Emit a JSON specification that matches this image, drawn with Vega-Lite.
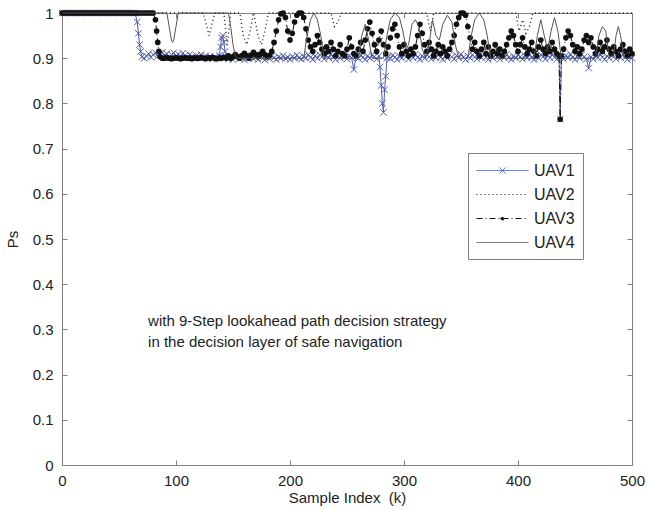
{
  "$schema": "https://vega.github.io/schema/vega-lite/v6.json",
  "width": 570,
  "height": 452,
  "autosize": {"type": "none"},
  "padding": {"left": 62, "top": 13, "right": 15, "bottom": 45},
  "background": "white",
  "config": {
    "font": "Liberation Sans",
    "view": {"stroke": "#808080"},
    "axis": {"labelFontSize": 15, "titleFontSize": 15, "labelColor": "#222222", "titleColor": "#222222", "domainColor": "#808080", "tickColor": "#808080", "grid": false, "titleFontWeight": "normal", "labelFont": "Liberation Sans", "titleFont": "Liberation Sans", "labelFlush": false}
  },
  "datasets": {
    "u1": [
      {"x":0,"y":1},{"x":2,"y":1},{"x":4,"y":1},{"x":6,"y":1},{"x":8,"y":1},{"x":10,"y":1},{"x":12,"y":1},{"x":14,"y":1},{"x":16,"y":1},{"x":18,"y":1},{"x":20,"y":1},{"x":22,"y":1},{"x":24,"y":1},{"x":26,"y":1},{"x":28,"y":1},{"x":30,"y":1},{"x":32,"y":1},{"x":34,"y":1},{"x":36,"y":1},{"x":38,"y":1},{"x":40,"y":1},{"x":42,"y":1},{"x":44,"y":1},{"x":46,"y":1},{"x":48,"y":1},{"x":50,"y":1},{"x":52,"y":1},{"x":54,"y":1},{"x":56,"y":1},{"x":58,"y":1},{"x":60,"y":1},{"x":62,"y":1},{"x":64,"y":1},
      {"x":66,"y":0.98},{"x":67,"y":0.955},{"x":68,"y":0.93},{"x":69,"y":0.915},{"x":70,"y":0.903},{"x":72,"y":0.9},
      {"x":74,"y":0.905},{"x":76,"y":0.91},{"x":78,"y":0.902},{"x":80,"y":0.908},{"x":82,"y":0.912},{"x":84,"y":0.904},{"x":86,"y":0.909},{"x":88,"y":0.913},{"x":90,"y":0.906},{"x":92,"y":0.91},{"x":94,"y":0.903},{"x":96,"y":0.908},{"x":98,"y":0.912},{"x":100,"y":0.905},{"x":102,"y":0.909},{"x":104,"y":0.904},{"x":106,"y":0.911},{"x":108,"y":0.906},{"x":110,"y":0.902},{"x":112,"y":0.908},{"x":114,"y":0.904},{"x":116,"y":0.9},{"x":118,"y":0.906},{"x":120,"y":0.902},{"x":122,"y":0.908},{"x":124,"y":0.901},{"x":126,"y":0.905},{"x":128,"y":0.9},{"x":130,"y":0.904},{"x":132,"y":0.898},{"x":134,"y":0.903},{"x":136,"y":0.9},{"x":138,"y":0.906},
      {"x":139,"y":0.925},{"x":140,"y":0.945},{"x":141,"y":0.95},{"x":142,"y":0.935},{"x":143,"y":0.915},{"x":144,"y":0.902},
      {"x":146,"y":0.898},{"x":148,"y":0.903},{"x":150,"y":0.897},{"x":152,"y":0.901},{"x":154,"y":0.905},{"x":156,"y":0.899},{"x":158,"y":0.902},{"x":160,"y":0.896},{"x":162,"y":0.903},{"x":164,"y":0.9},{"x":166,"y":0.906},{"x":168,"y":0.899},{"x":170,"y":0.902},{"x":172,"y":0.897},{"x":174,"y":0.904},{"x":176,"y":0.9},{"x":178,"y":0.896},{"x":180,"y":0.903},{"x":182,"y":0.899},{"x":184,"y":0.905},{"x":186,"y":0.901},{"x":188,"y":0.897},{"x":190,"y":0.903},{"x":192,"y":0.9},{"x":194,"y":0.906},{"x":196,"y":0.899},{"x":198,"y":0.902},{"x":200,"y":0.897},{"x":202,"y":0.904},{"x":204,"y":0.9},{"x":206,"y":0.907},{"x":208,"y":0.901},{"x":210,"y":0.898},{"x":212,"y":0.904},{"x":214,"y":0.9},{"x":216,"y":0.908},{"x":218,"y":0.902},{"x":220,"y":0.897},{"x":222,"y":0.905},{"x":224,"y":0.9},{"x":226,"y":0.908},{"x":228,"y":0.903},{"x":230,"y":0.898},{"x":232,"y":0.906},{"x":234,"y":0.901},{"x":236,"y":0.909},{"x":238,"y":0.902},{"x":240,"y":0.897},{"x":242,"y":0.905},{"x":244,"y":0.9},{"x":246,"y":0.908},{"x":248,"y":0.903},{"x":250,"y":0.898},{"x":252,"y":0.906},{"x":254,"y":0.901},{"x":256,"y":0.875},{"x":258,"y":0.903},{"x":260,"y":0.899},{"x":262,"y":0.907},{"x":264,"y":0.902},{"x":266,"y":0.897},{"x":268,"y":0.905},{"x":270,"y":0.9},{"x":272,"y":0.908},{"x":274,"y":0.903},{"x":276,"y":0.898},{"x":278,"y":0.905},
      {"x":279,"y":0.88},{"x":280,"y":0.84},{"x":281,"y":0.8},{"x":282,"y":0.78},{"x":283,"y":0.83},{"x":284,"y":0.86},{"x":285,"y":0.9},
      {"x":286,"y":0.904},{"x":288,"y":0.899},{"x":290,"y":0.907},{"x":292,"y":0.902},{"x":294,"y":0.897},{"x":296,"y":0.905},{"x":298,"y":0.9},{"x":300,"y":0.908},{"x":302,"y":0.903},{"x":304,"y":0.898},{"x":306,"y":0.906},{"x":308,"y":0.901},{"x":310,"y":0.909},{"x":312,"y":0.902},{"x":314,"y":0.897},{"x":316,"y":0.905},{"x":318,"y":0.9},{"x":320,"y":0.908},{"x":322,"y":0.903},{"x":324,"y":0.898},{"x":326,"y":0.906},{"x":328,"y":0.901},{"x":330,"y":0.909},{"x":332,"y":0.902},{"x":334,"y":0.897},{"x":336,"y":0.905},{"x":338,"y":0.9},{"x":340,"y":0.908},{"x":342,"y":0.903},{"x":344,"y":0.898},{"x":346,"y":0.906},{"x":348,"y":0.901},{"x":350,"y":0.909},{"x":352,"y":0.902},{"x":354,"y":0.897},{"x":356,"y":0.905},{"x":358,"y":0.9},{"x":360,"y":0.908},{"x":362,"y":0.903},{"x":364,"y":0.898},{"x":366,"y":0.906},{"x":368,"y":0.901},{"x":370,"y":0.909},{"x":372,"y":0.902},{"x":374,"y":0.897},{"x":376,"y":0.905},{"x":378,"y":0.9},{"x":380,"y":0.908},{"x":382,"y":0.903},{"x":384,"y":0.898},{"x":386,"y":0.906},{"x":388,"y":0.901},{"x":390,"y":0.909},{"x":392,"y":0.902},{"x":394,"y":0.897},{"x":396,"y":0.905},{"x":398,"y":0.9},{"x":400,"y":0.908},{"x":402,"y":0.903},{"x":404,"y":0.898},{"x":406,"y":0.906},{"x":408,"y":0.901},{"x":410,"y":0.909},{"x":412,"y":0.902},{"x":414,"y":0.897},{"x":416,"y":0.905},{"x":418,"y":0.9},{"x":420,"y":0.908},{"x":422,"y":0.903},{"x":424,"y":0.898},{"x":426,"y":0.906},{"x":428,"y":0.901},{"x":430,"y":0.909},{"x":432,"y":0.902},{"x":434,"y":0.897},{"x":436,"y":0.905},{"x":437,"y":0.765},{"x":438,"y":0.902},{"x":440,"y":0.898},{"x":442,"y":0.906},{"x":444,"y":0.901},{"x":446,"y":0.909},{"x":448,"y":0.902},{"x":450,"y":0.897},{"x":452,"y":0.905},{"x":454,"y":0.9},{"x":456,"y":0.908},{"x":458,"y":0.903},{"x":460,"y":0.898},{"x":462,"y":0.878},{"x":464,"y":0.903},{"x":466,"y":0.898},{"x":468,"y":0.906},{"x":470,"y":0.901},{"x":472,"y":0.909},{"x":474,"y":0.902},{"x":476,"y":0.897},{"x":478,"y":0.905},{"x":480,"y":0.9},{"x":482,"y":0.908},{"x":484,"y":0.903},{"x":486,"y":0.898},{"x":488,"y":0.906},{"x":490,"y":0.901},{"x":492,"y":0.909},{"x":494,"y":0.902},{"x":496,"y":0.897},{"x":498,"y":0.905},{"x":500,"y":0.9}
    ],
    "u2": [
      {"x":0,"y":1},{"x":124,"y":1},{"x":127,"y":0.97},{"x":129,"y":0.95},{"x":131,"y":0.97},{"x":134,"y":1},{"x":142,"y":1},{"x":145,"y":0.93},{"x":148,"y":1},{"x":156,"y":1},{"x":159,"y":0.95},{"x":162,"y":0.93},{"x":165,"y":0.96},{"x":168,"y":1},{"x":172,"y":0.95},{"x":175,"y":0.93},{"x":178,"y":0.96},{"x":181,"y":1},{"x":236,"y":1},{"x":239,"y":0.97},{"x":242,"y":0.98},{"x":245,"y":1},{"x":320,"y":1},{"x":323,"y":0.96},{"x":326,"y":1},{"x":398,"y":1},{"x":401,"y":0.96},{"x":404,"y":0.985},{"x":407,"y":0.955},{"x":410,"y":0.97},{"x":413,"y":1},{"x":500,"y":1}
    ],
    "u3": [
      {"x":0,"y":1},{"x":2,"y":1},{"x":4,"y":1},{"x":6,"y":1},{"x":8,"y":1},{"x":10,"y":1},{"x":12,"y":1},{"x":14,"y":1},{"x":16,"y":1},{"x":18,"y":1},{"x":20,"y":1},{"x":22,"y":1},{"x":24,"y":1},{"x":26,"y":1},{"x":28,"y":1},{"x":30,"y":1},{"x":32,"y":1},{"x":34,"y":1},{"x":36,"y":1},{"x":38,"y":1},{"x":40,"y":1},{"x":42,"y":1},{"x":44,"y":1},{"x":46,"y":1},{"x":48,"y":1},{"x":50,"y":1},{"x":52,"y":1},{"x":54,"y":1},{"x":56,"y":1},{"x":58,"y":1},{"x":60,"y":1},{"x":62,"y":1},{"x":64,"y":1},{"x":66,"y":1},{"x":68,"y":1},{"x":70,"y":1},{"x":72,"y":1},{"x":74,"y":1},{"x":76,"y":1},{"x":78,"y":1},{"x":80,"y":1},
      {"x":82,"y":0.985},{"x":83,"y":0.96},{"x":84,"y":0.935},{"x":85,"y":0.915},{"x":86,"y":0.903},{"x":88,"y":0.9},
      {"x":90,"y":0.9},{"x":92,"y":0.901},{"x":94,"y":0.9},{"x":96,"y":0.899},{"x":98,"y":0.9},{"x":100,"y":0.901},{"x":102,"y":0.9},{"x":104,"y":0.899},{"x":106,"y":0.9},{"x":108,"y":0.901},{"x":110,"y":0.9},{"x":112,"y":0.9},{"x":114,"y":0.899},{"x":116,"y":0.901},{"x":118,"y":0.9},{"x":120,"y":0.9},{"x":122,"y":0.902},{"x":124,"y":0.9},{"x":126,"y":0.899},{"x":128,"y":0.901},{"x":130,"y":0.9},{"x":132,"y":0.902},{"x":134,"y":0.9},{"x":136,"y":0.899},{"x":138,"y":0.901},{"x":140,"y":0.9},
      {"x":142,"y":0.902},{"x":144,"y":0.9},{"x":146,"y":0.905},{"x":148,"y":0.9},{"x":150,"y":0.903},{"x":152,"y":0.908},{"x":154,"y":0.903},{"x":156,"y":0.9},{"x":158,"y":0.906},{"x":160,"y":0.911},{"x":162,"y":0.905},{"x":164,"y":0.9},{"x":166,"y":0.907},{"x":168,"y":0.913},{"x":170,"y":0.908},{"x":172,"y":0.903},{"x":174,"y":0.909},{"x":176,"y":0.915},{"x":178,"y":0.908},{"x":180,"y":0.903},{"x":182,"y":0.906},{"x":184,"y":0.915},{"x":186,"y":0.935},{"x":188,"y":0.96},{"x":190,"y":0.985},{"x":192,"y":0.998},{"x":194,"y":1},{"x":196,"y":0.99},{"x":198,"y":0.96},{"x":200,"y":0.94},{"x":202,"y":0.955},{"x":204,"y":0.98},{"x":206,"y":0.995},{"x":208,"y":1},{"x":210,"y":1},{"x":212,"y":0.99},{"x":214,"y":0.965},{"x":216,"y":0.94},{"x":218,"y":0.925},{"x":220,"y":0.915},{"x":222,"y":0.93},{"x":224,"y":0.95},{"x":226,"y":0.935},{"x":228,"y":0.92},{"x":230,"y":0.91},{"x":232,"y":0.925},{"x":234,"y":0.915},{"x":236,"y":0.935},{"x":238,"y":0.92},{"x":240,"y":0.905},{"x":242,"y":0.915},{"x":244,"y":0.93},{"x":246,"y":0.91},{"x":248,"y":0.905},{"x":250,"y":0.92},{"x":252,"y":0.945},{"x":254,"y":0.925},{"x":256,"y":0.91},{"x":258,"y":0.905},{"x":260,"y":0.92},{"x":262,"y":0.935},{"x":264,"y":0.915},{"x":266,"y":0.94},{"x":268,"y":0.965},{"x":270,"y":0.98},{"x":272,"y":0.955},{"x":274,"y":0.93},{"x":276,"y":0.915},{"x":278,"y":0.94},{"x":280,"y":0.96},{"x":282,"y":0.93},{"x":284,"y":0.91},{"x":286,"y":0.925},{"x":288,"y":0.945},{"x":290,"y":0.965},{"x":292,"y":0.975},{"x":294,"y":0.95},{"x":296,"y":0.925},{"x":298,"y":0.91},{"x":300,"y":0.93},{"x":302,"y":0.915},{"x":304,"y":0.905},{"x":306,"y":0.92},{"x":308,"y":0.91},{"x":310,"y":0.925},{"x":312,"y":0.95},{"x":314,"y":0.975},{"x":316,"y":0.955},{"x":318,"y":0.93},{"x":320,"y":0.915},{"x":322,"y":0.935},{"x":324,"y":0.92},{"x":326,"y":0.905},{"x":328,"y":0.915},{"x":330,"y":0.93},{"x":332,"y":0.91},{"x":334,"y":0.925},{"x":336,"y":0.915},{"x":338,"y":0.905},{"x":340,"y":0.92},{"x":342,"y":0.935},{"x":344,"y":0.95},{"x":346,"y":0.975},{"x":348,"y":0.99},{"x":350,"y":1},{"x":352,"y":1},{"x":354,"y":0.995},{"x":356,"y":0.97},{"x":358,"y":0.945},{"x":360,"y":0.92},{"x":362,"y":0.935},{"x":364,"y":0.915},{"x":366,"y":0.905},{"x":368,"y":0.92},{"x":370,"y":0.935},{"x":372,"y":0.91},{"x":374,"y":0.925},{"x":376,"y":0.905},{"x":378,"y":0.915},{"x":380,"y":0.93},{"x":382,"y":0.91},{"x":384,"y":0.92},{"x":386,"y":0.905},{"x":388,"y":0.915},{"x":390,"y":0.93},{"x":392,"y":0.945},{"x":394,"y":0.96},{"x":396,"y":0.95},{"x":398,"y":0.93},{"x":400,"y":0.915},{"x":402,"y":0.93},{"x":404,"y":0.945},{"x":406,"y":0.925},{"x":408,"y":0.91},{"x":410,"y":0.92},{"x":412,"y":0.935},{"x":414,"y":0.915},{"x":416,"y":0.905},{"x":418,"y":0.925},{"x":420,"y":0.94},{"x":422,"y":0.92},{"x":424,"y":0.91},{"x":426,"y":0.925},{"x":428,"y":0.915},{"x":430,"y":0.935},{"x":432,"y":0.92},{"x":434,"y":0.91},{"x":436,"y":0.905},{"x":437,"y":0.765},{"x":438,"y":0.905},{"x":440,"y":0.92},{"x":442,"y":0.945},{"x":444,"y":0.96},{"x":446,"y":0.95},{"x":448,"y":0.93},{"x":450,"y":0.915},{"x":452,"y":0.925},{"x":454,"y":0.91},{"x":456,"y":0.92},{"x":458,"y":0.94},{"x":460,"y":0.95},{"x":462,"y":0.935},{"x":464,"y":0.945},{"x":466,"y":0.925},{"x":468,"y":0.91},{"x":470,"y":0.92},{"x":472,"y":0.935},{"x":474,"y":0.915},{"x":476,"y":0.925},{"x":478,"y":0.94},{"x":480,"y":0.92},{"x":482,"y":0.91},{"x":484,"y":0.925},{"x":486,"y":0.915},{"x":488,"y":0.905},{"x":490,"y":0.92},{"x":492,"y":0.93},{"x":494,"y":0.915},{"x":496,"y":0.905},{"x":498,"y":0.92},{"x":500,"y":0.91}
    ],
    "u4": [
      {"x":0,"y":1},{"x":92,"y":1},{"x":94,"y":0.97},{"x":96,"y":0.94},{"x":97,"y":0.935},{"x":98,"y":0.94},{"x":100,"y":0.97},{"x":102,"y":1},{"x":146,"y":1},{"x":148,"y":0.97},{"x":150,"y":0.93},{"x":152,"y":0.905},{"x":154,"y":0.9},{"x":212,"y":0.9},{"x":215,"y":0.95},{"x":218,"y":0.985},{"x":221,"y":1},{"x":224,"y":0.985},{"x":227,"y":0.95},{"x":230,"y":0.9},{"x":260,"y":0.9},{"x":263,"y":0.95},{"x":266,"y":0.975},{"x":269,"y":0.94},{"x":272,"y":0.9},{"x":282,"y":0.9},{"x":285,"y":0.95},{"x":288,"y":0.985},{"x":292,"y":1},{"x":296,"y":0.99},{"x":299,"y":0.96},{"x":302,"y":0.92},{"x":304,"y":0.93},{"x":307,"y":0.975},{"x":310,"y":0.985},{"x":313,"y":0.97},{"x":316,"y":0.92},{"x":319,"y":0.9},{"x":322,"y":0.93},{"x":325,"y":0.985},{"x":328,"y":0.95},{"x":331,"y":0.94},{"x":334,"y":0.975},{"x":338,"y":0.995},{"x":342,"y":0.98},{"x":345,"y":0.93},{"x":348,"y":0.9},{"x":356,"y":0.9},{"x":359,"y":0.95},{"x":362,"y":0.985},{"x":366,"y":1},{"x":370,"y":0.985},{"x":373,"y":0.95},{"x":376,"y":0.9},{"x":414,"y":0.9},{"x":417,"y":0.95},{"x":420,"y":0.985},{"x":423,"y":0.95},{"x":426,"y":0.92},{"x":429,"y":0.96},{"x":432,"y":0.99},{"x":435,"y":0.96},{"x":438,"y":0.9},{"x":468,"y":0.9},{"x":471,"y":0.95},{"x":474,"y":0.97},{"x":477,"y":0.96},{"x":480,"y":0.9},{"x":484,"y":0.91},{"x":486,"y":0.95},{"x":488,"y":0.97},{"x":490,"y":0.95},{"x":493,"y":0.9},{"x":500,"y":0.9}
    ],
    "notes": [
      {"x":75.5,"y":0.319,"t":"with 9-Step lookahead path decision strategy"},
      {"x":75.5,"y":0.272,"t":"in the decision layer of safe navigation"}
    ]
  },
  "resolve": {"axis": {"x": "independent", "y": "independent"}},
  "layer": [
    {
      "data": {"name": "u1"},
      "mark": {"type": "line", "strokeWidth": 1, "clip": true},
      "encoding": {
        "x": {"field": "x", "type": "quantitative", "scale": {"domain": [0, 500], "nice": false},
              "axis": {"values": [0, 100, 200, 300, 400, 500], "tickSize": -5, "labelPadding": 13, "title": "Sample Index\u00a0 (k)", "titlePadding": 2}},
        "y": {"field": "y", "type": "quantitative", "scale": {"domain": [0, 1], "nice": false},
              "axis": {"values": [0, 0.1, 0.2, 0.3, 0.4, 0.5, 0.6, 0.7, 0.8, 0.9, 1], "format": ".1~f", "tickSize": -5, "labelPadding": 14, "title": "Ps", "titlePadding": 12}},
        "color": {"datum": "UAV1", "type": "nominal",
                  "scale": {"domain": ["UAV1", "UAV2", "UAV3", "UAV4"], "range": ["#4a5cb5", "#111111", "#111111", "#555555"]},
                  "legend": {
                    "title": null, "orient": "none", "legendX": 406, "legendY": 140,
                    "padding": 8, "strokeColor": "#808080", "fillColor": "white",
                    "labelFontSize": 16, "labelColor": "#222222", "labelFont": "Liberation Sans",
                    "symbolSize": 300, "symbolStrokeWidth": 1, "symbolOffset": 17, "labelOffset": 22, "rowPadding": 6,
                    "encode": {"symbols": {"update": {
                      "shape": {"signal": "datum.value === 'UAV1' ? 'M-3,0H3M-0.35,-0.35L0.35,0.35M-0.35,0.35L0.35,-0.35' : (datum.value === 'UAV3' ? 'M-3,0H3M0.18,0A0.18,0.18 0 1,1 -0.18,0A0.18,0.18 0 1,1 0.18,0Z' : 'M-3,0H3')"},
                      "fill": {"signal": "datum.value === 'UAV3' ? '#111111' : 'transparent'"},
                      "stroke": {"scale": "color", "field": "value"},
                      "strokeDash": {"signal": "datum.value === 'UAV2' ? [1,3] : (datum.value === 'UAV3' ? [6,3,1,3] : [1,0])"},
                      "opacity": {"value": 1}
                    }}}
                  }}
      }
    },
    {
      "data": {"name": "u1"},
      "mark": {"type": "point", "shape": "M-1,-1L1,1M-1,1L1,-1", "filled": false, "size": 42, "strokeWidth": 1, "opacity": 1},
      "encoding": {
        "x": {"field": "x", "type": "quantitative", "axis": null},
        "y": {"field": "y", "type": "quantitative", "axis": null},
        "color": {"datum": "UAV1", "type": "nominal"}
      }
    },
    {
      "data": {"name": "u2"},
      "mark": {"type": "line", "strokeWidth": 1.3, "strokeDash": [1, 3]},
      "encoding": {
        "x": {"field": "x", "type": "quantitative", "axis": null},
        "y": {"field": "y", "type": "quantitative", "axis": null},
        "color": {"datum": "UAV2", "type": "nominal"}
      }
    },
    {
      "data": {"name": "u3"},
      "mark": {"type": "line", "strokeWidth": 1, "strokeDash": [6, 3, 1, 3]},
      "encoding": {
        "x": {"field": "x", "type": "quantitative", "axis": null},
        "y": {"field": "y", "type": "quantitative", "axis": null},
        "color": {"datum": "UAV3", "type": "nominal"}
      }
    },
    {
      "data": {"name": "u3"},
      "mark": {"type": "circle", "size": 32, "opacity": 1},
      "encoding": {
        "x": {"field": "x", "type": "quantitative", "axis": null},
        "y": {"field": "y", "type": "quantitative", "axis": null},
        "color": {"datum": "UAV3", "type": "nominal"}
      }
    },
    {
      "data": {"name": "u4"},
      "mark": {"type": "line", "strokeWidth": 1},
      "encoding": {
        "x": {"field": "x", "type": "quantitative",
              "axis": {"orient": "top", "values": [0, 100, 200, 300, 400, 500], "tickSize": -5, "labels": false, "title": null}},
        "y": {"field": "y", "type": "quantitative",
              "axis": {"orient": "right", "values": [0, 0.1, 0.2, 0.3, 0.4, 0.5, 0.6, 0.7, 0.8, 0.9, 1], "tickSize": -5, "labels": false, "title": null}},
        "color": {"datum": "UAV4", "type": "nominal"}
      }
    },
    {
      "data": {"name": "notes"},
      "mark": {"type": "text", "align": "left", "baseline": "middle", "fontSize": 15, "font": "Liberation Sans", "color": "#222222"},
      "encoding": {
        "x": {"field": "x", "type": "quantitative", "axis": null},
        "y": {"field": "y", "type": "quantitative", "axis": null},
        "text": {"field": "t"}
      }
    }
  ]
}
